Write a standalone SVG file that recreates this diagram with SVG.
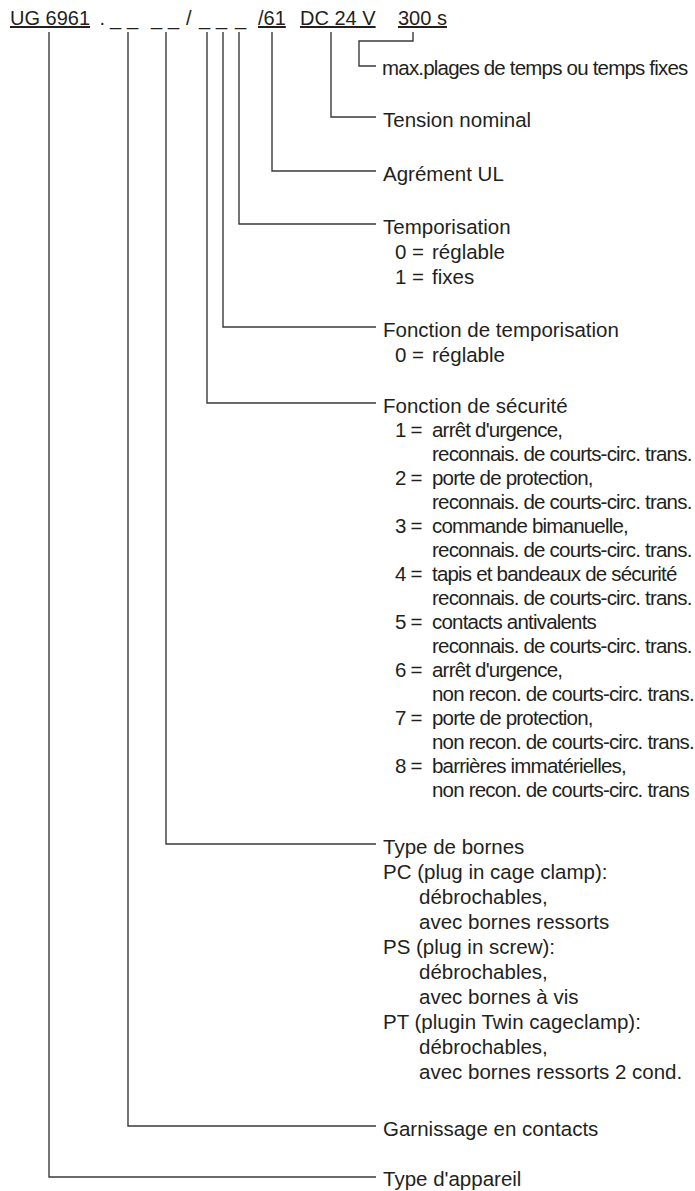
<svg xmlns="http://www.w3.org/2000/svg" width="695" height="1191" viewBox="0 0 695 1191">
<style>
text { font-family: "Liberation Sans", Arial, Helvetica, sans-serif; font-size: 20.5px; fill: #231f20; }
.top { font-size: 20px; }
.u { text-decoration: underline; }
.c { letter-spacing: -0.8px; }
.ln { fill: none; stroke: #3a3a3a; stroke-width: 1.4; }
</style>
<rect width="695" height="1191" fill="#ffffff"/>

<g id="code">
<text class="top u" x="10" y="25">UG 6961</text>
<text class="top" y="25"><tspan x="99.5">.</tspan><tspan x="110">_</tspan><tspan x="127">_</tspan><tspan x="151">_</tspan><tspan x="168">_</tspan><tspan x="186">/</tspan><tspan x="199">_</tspan><tspan x="216">_</tspan><tspan x="235">_</tspan></text>
<text class="top u" x="258" y="25">/61</text>
<text class="top u" x="300" y="25">DC 24 V</text>
<text class="top u" x="398" y="25">300 s</text>
</g>

<g id="connectors">
<path class="ln" d="M49,32 V1177 H376"/>
<path class="ln" d="M128,32 V1126 H376"/>
<path class="ln" d="M166,32 V844 H376"/>
<path class="ln" d="M207,32 V403 H376"/>
<path class="ln" d="M223,32 V327 H376"/>
<path class="ln" d="M239,32 V224 H376"/>
<path class="ln" d="M272,32 V171 H376"/>
<path class="ln" d="M331,32 V117 H376"/>
<path class="ln" d="M413,32 V41 H359 V66 H376"/>
</g>

<g id="node-temps">
<text class="c" x="382" y="75">max.plages de temps ou temps fixes</text>
</g>

<g id="node-tension">
<text x="383" y="127">Tension nominal</text>
</g>

<g id="node-ul">
<text x="383" y="181">Agrément UL</text>
</g>

<g id="node-temporisation">
<text x="383" y="234">Temporisation</text>
<text x="395" y="259">0 =</text><text x="432" y="259">réglable</text>
<text x="395" y="284">1 =</text><text x="432" y="284">fixes</text>
</g>

<g id="node-fonction-temporisation">
<text x="383" y="337">Fonction de temporisation</text>
<text x="395" y="362">0 =</text><text x="432" y="362">réglable</text>
</g>

<g id="node-securite">
<text x="383" y="413">Fonction de sécurité</text>
<text class="c" x="395" y="437">1 =</text><text class="c" x="432" y="437">arrêt d'urgence,</text>
<text class="c" x="432" y="461">reconnais. de courts-circ. trans.</text>
<text class="c" x="395" y="485">2 =</text><text class="c" x="432" y="485">porte de protection,</text>
<text class="c" x="432" y="509">reconnais. de courts-circ. trans.</text>
<text class="c" x="395" y="533">3 =</text><text class="c" x="432" y="533">commande bimanuelle,</text>
<text class="c" x="432" y="557">reconnais. de courts-circ. trans.</text>
<text class="c" x="395" y="581">4 =</text><text class="c" x="432" y="581">tapis et bandeaux de sécurité</text>
<text class="c" x="432" y="605">reconnais. de courts-circ. trans.</text>
<text class="c" x="395" y="629">5 =</text><text class="c" x="432" y="629">contacts antivalents</text>
<text class="c" x="432" y="653">reconnais. de courts-circ. trans.</text>
<text class="c" x="395" y="677">6 =</text><text class="c" x="432" y="677">arrêt d'urgence,</text>
<text class="c" x="432" y="701">non recon. de courts-circ. trans.</text>
<text class="c" x="395" y="725">7 =</text><text class="c" x="432" y="725">porte de protection,</text>
<text class="c" x="432" y="749">non recon. de courts-circ. trans.</text>
<text class="c" x="395" y="773">8 =</text><text class="c" x="432" y="773">barrières immatérielles,</text>
<text class="c" x="432" y="797">non recon. de courts-circ. trans</text>
</g>

<g id="node-bornes">
<text x="383" y="854">Type de bornes</text>
<text x="383" y="879">PC (plug in cage clamp):</text>
<text x="419" y="904">débrochables,</text>
<text x="419" y="929">avec bornes ressorts</text>
<text x="383" y="954">PS (plug in screw):</text>
<text x="419" y="979">débrochables,</text>
<text x="419" y="1004">avec bornes à vis</text>
<text x="383" y="1029">PT (plugin Twin cageclamp):</text>
<text x="419" y="1054">débrochables,</text>
<text x="419" y="1079">avec bornes ressorts 2 cond.</text>
</g>

<g id="node-garnissage">
<text x="383" y="1136">Garnissage en contacts</text>
</g>

<g id="node-appareil">
<text x="383" y="1186">Type d'appareil</text>
</g>
</svg>
